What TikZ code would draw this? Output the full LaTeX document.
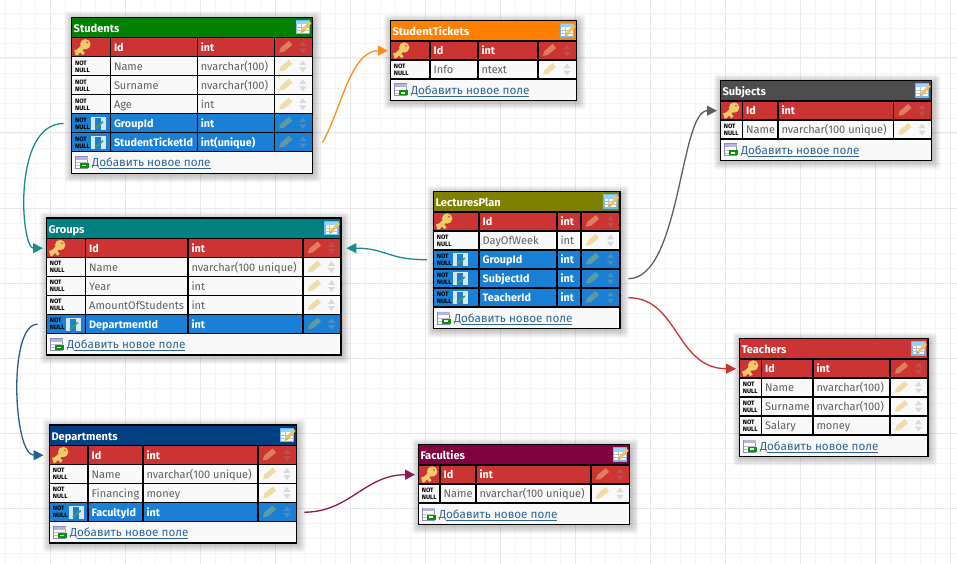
\documentclass[tikz,border=0pt]{standalone}
\usepackage{fontspec}
\setmainfont{Fira Sans}
\usetikzlibrary{arrows.meta}
\definecolor{rowP}{HTML}{CC3333}
\definecolor{rowN}{HTML}{F9F9F9}
\definecolor{rowF}{HTML}{1A80D6}
\definecolor{txtP}{HTML}{FFFFFF}
\definecolor{txtN}{HTML}{5F5F5F}
\definecolor{txtF}{HTML}{FFFFFF}
\definecolor{penP}{HTML}{DE8060}
\definecolor{penN}{HTML}{F0DCA8}
\definecolor{penF}{HTML}{5F9A9E}
\definecolor{arwP}{HTML}{BA5050}
\definecolor{arwN}{HTML}{DADADA}
\definecolor{arwF}{HTML}{4C8CC0}
\definecolor{linkc}{HTML}{2F6496}
\definecolor{gold}{HTML}{EFCB6A}
\definecolor{fkbar}{HTML}{D8E8F2}
\definecolor{fkchk}{HTML}{4E9A50}
\definecolor{cGreen}{HTML}{008000}
\definecolor{cOrange}{HTML}{FF8000}
\definecolor{cGray}{HTML}{4D4D4D}
\definecolor{cTeal}{HTML}{008080}
\definecolor{cOlive}{HTML}{808000}
\definecolor{cRed}{HTML}{CC3333}
\definecolor{cNavy}{HTML}{004080}
\definecolor{cMaroon}{HTML}{800040}
\newcount\rowcnt
\tikzset{
  minorgrid/.style={draw=black!4,line width=.8pt},
  majorgrid/.style={draw=black!9,line width=1pt},
  tablebox/.style={rectangle,fill=rowN,inner sep=0pt,anchor=north west},
  rowbox/.style={rectangle,inner sep=0pt,anchor=north west,minimum height=19pt},
  rule/.style={draw=black,line width=1.2pt},
  celltext/.style={inner sep=0pt,anchor=base west,font=\fontsize{11}{14}\selectfont},
  titletext/.style={inner sep=0pt,anchor=base west,text=white,font=\fontsize{11.1}{14}\selectfont\bfseries},
  nntext/.style={inner sep=0pt,anchor=base west,text=black,font=\fontsize{6.3}{7}\selectfont\bfseries},
  linktext/.style={inner sep=0pt,anchor=base west,text=linkc,font=\fontsize{11.7}{14}\selectfont},
  conn/.style={draw=#1,line width=1.3pt,-{Triangle[length=10pt,width=10pt]},fill=none},
}
\newcommand{\boldsz}{\fontsize{10.8}{14}\selectfont\bfseries}
\newcommand{\keyicon}[2]{\begin{scope}[shift={(#1,#2)}]
  \draw[gold,line width=4.4pt] (3,-2.5) -- (-5,5);
  \draw[gold,line width=3pt] (-2,2.5) -- (1.5,6.8);
  \draw[gold,line width=3pt] (-6.5,2.5) -- (-5,7.8);
  \fill[gold] (3.2,-3) circle (5.2);
  \fill[rowP!70!gold] (5,-4.8) circle (1.1);
\end{scope}}
\newcommand{\fkicon}[2]{\begin{scope}[shift={(#1,#2)}]
  \fill[fkbar] (-7.5,-6.5) rectangle (-3,6.5);
  \fill[fkbar] (3,-6.5) rectangle (7.5,6.5);
  \fill[fkbar] (-3,-6.5) rectangle (3,-5.3);
  \draw[fkchk,line width=1.6pt] (-3,5) -- (4.8,-1.5);
\end{scope}}
\newcommand{\pencilicon}[3]{\begin{scope}[shift={(#1,#2)},rotate=40]
  \fill[#3] (-4,-2.6) -- (7,-2.6) -- (7,2.6) -- (-4,2.6) -- cycle;
  \fill[#3] (-4,-2.6) -- (-4,2.6) -- (-8,0) -- cycle;
\end{scope}}
\newcommand{\arrowsicon}[3]{\begin{scope}[shift={(#1,#2)}]
  \fill[#3] (-3.5,-1.2) -- (3.5,-1.2) -- (0,-6) -- cycle;
  \fill[#3] (-3.5,1.2) -- (3.5,1.2) -- (0,6) -- cycle;
\end{scope}}
\newcommand{\editicon}[2]{\begin{scope}[shift={(#1,#2)}]
  \fill[white] (-7,-6.5) rectangle (6,6.5);
  \draw[blue!45!cyan!60!white,line width=1.1pt] (-7,-6.5) rectangle (6,6.5);
  \fill[blue!45!cyan!40!white] (-7,-6.5) rectangle (6,-3);
  \draw[black!25,line width=.6pt] (-7,0) -- (6,0) (-7,3.2) -- (6,3.2) (-2.5,-3) -- (-2.5,6.5);
  \draw[gold!90!orange,line width=3pt] (7,-5) -- (-0.5,3.5);
  \fill[gold!60!brown] (-2.5,6) -- (-1.6,2.2) -- (0.7,4.4) -- cycle;
\end{scope}}
\newcommand{\addicon}[2]{\begin{scope}[shift={(#1,#2)}]
  \fill[white] (-6.5,-6) rectangle (5.5,6);
  \draw[blue!30!gray!70!white,line width=1pt] (-6.5,-6) rectangle (5.5,6);
  \fill[blue!30!gray!45!white] (-6.5,-6) rectangle (5.5,-3);
  \draw[black!25,line width=.6pt] (-6.5,0) -- (5.5,0) (-6.5,3) -- (5.5,3);
  \fill[green!60!black] (-2,0.5) rectangle (7,5.5);
  \fill[white] (-.5,2.3) rectangle (4,3.7);
\end{scope}}
% #1 title #2 colour #3 x0 #4 y0 #5 c1 #6 c2 #7 c3 #8 x1 #9 rows
\newcommand{\dbtable}[9]{%
  \global\rowcnt=0
  \foreach \aa in {#9}{\global\advance\rowcnt by 1}
  \pgfmathsetmacro\tw{#8-(#3)}
  \pgfmathsetmacro\ya{#4+20.5}
  \pgfmathsetmacro\yb{\ya+19*\the\rowcnt}
  \pgfmathsetmacro\yc{\yb+21.5}
  \pgfmathsetmacro\th{\yc-(#4)}
  \foreach \s in {1,...,8}{\fill[black,opacity=.032,rounded corners=3pt] (#3-\s+1,#4-\s+2) rectangle (#8+\s+1,\yc+\s+1);}
  \node[tablebox,minimum width=\tw pt,minimum height=\th pt] (#1) at (#3,#4) {};
  \fill[#2] (#3,#4) rectangle (#8,\ya);
  \node[titletext] (#1-title) at (#3+1.8,#4+15) {#1};
  \editicon{#8-9}{#4+10}
  \foreach \kk/\fn/\ft [count=\ii] in {#9}{%
    \pgfmathsetmacro\ry{\ya+19*(\ii-1)}
    \pgfmathsetmacro\rc{\ry+9.5}
    \node[rowbox,fill=row\kk,minimum width=\tw pt] (#1-\fn) at (#3,\ry) {};
    \if\kk P\keyicon{#3+10.5}{\rc}\else
      \node[nntext] (#1-\fn-nn1) at (#3+3.2,\rc-1.2) {NOT};
      \node[nntext] (#1-\fn-nn2) at (#3+3.2,\rc+5.8) {NULL};
    \fi
    \if\kk F\fkicon{#3+26.5}{\rc}\fi
    \ifx\kk\kP\def\tfm{\boldsz}\else\ifx\kk\kF\def\tfm{\boldsz}\else\def\tfm{}\fi\fi
    \node[celltext,text=txt\kk] (#1-\fn-name) at (#5+3.5,\rc+4.4) {\tfm\fn};
    \node[celltext,text=txt\kk] (#1-\fn-type) at (#6+3.3,\rc+4.4) {\tfm\ft};
    \pencilicon{#7+11}{\rc}{pen\kk}
    \arrowsicon{#8-9.5}{\rc}{arw\kk}
  }
  \draw[rule] (#3,\ya) -- (#8,\ya);
  \foreach \ii in {1,...,\the\rowcnt}{\draw[rule] (#3,\ya+19*\ii) -- (#8,\ya+19*\ii);}
  \draw[rule] (#5,\ya) -- (#5,\yb) (#6,\ya) -- (#6,\yb) (#7,\ya) -- (#7,\yb);
  \draw[rule] (#3,#4) rectangle (#8,\yc);
  \addicon{#3+10.5}{\yc-10.5}
  \node[linktext] (#1-add) at (#3+20.3,\yc-6.3) {Д\underline{обавить новое поле}};
}
\def\kP{P}\def\kF{F}
\begin{document}
\begin{tikzpicture}[x=1pt,y=-1pt]
\useasboundingbox (0,0) rectangle (957,564);
\fill[white] (0,0) rectangle (957,564);
\foreach \i in {0,...,63}{\draw[minorgrid] (5.7+15*\i,0) -- (5.7+15*\i,564);}
\foreach \i in {0,...,37}{\draw[minorgrid] (0,13+15*\i) -- (957,13+15*\i);}
\foreach \i in {0,...,12}{\draw[majorgrid] (50.7+75*\i,0) -- (50.7+75*\i,564);}
\foreach \i in {0,...,7}{\draw[majorgrid] (0,58+75*\i) -- (957,58+75*\i);}

\dbtable{Students}{cGreen}{71.7}{17.3}{110.3}{197.3}{274.3}{312.3}{P/Id/int,N/Name/nvarchar(100),N/Surname/nvarchar(100),N/Age/int,F/GroupId/int,F/StudentTicketId/int(unique)}
\dbtable{StudentTickets}{cOrange}{390.5}{20.5}{430}{478}{538}{576.5}{P/Id/int,N/Info/ntext}
\dbtable{Subjects}{cGray}{720.5}{80.5}{742.5}{778}{893.5}{931.5}{P/Id/int,N/Name/nvarchar(100 unique)}
\dbtable{Groups}{cTeal}{46.5}{218}{85.5}{188}{303}{341}{P/Id/int,N/Name/nvarchar(100 unique),N/Year/int,N/AmountOfStudents/int,F/DepartmentId/int}
\dbtable{LecturesPlan}{cOlive}{433.5}{191.5}{479}{557}{581}{620}{P/Id/int,N/DayOfWeek/int,F/GroupId/int,F/SubjectId/int,F/TeacherId/int}
\dbtable{Teachers}{cRed}{739.5}{338.5}{761.5}{813}{890}{928}{P/Id/int,N/Name/nvarchar(100),N/Surname/nvarchar(100),N/Salary/money}
\dbtable{Departments}{cNavy}{49.5}{425}{88}{143}{258}{296.5}{P/Id/int,N/Name/nvarchar(100 unique),N/Financing/money,F/FacultyId/int}
\dbtable{Faculties}{cMaroon}{418.5}{444.5}{440}{476}{591}{629.5}{P/Id/int,N/Name/nvarchar(100 unique)}

\draw[conn=cTeal!90!white] ([xshift=-8pt]Students-GroupId.west) .. controls +(-52,0) and +(-22,0) .. ([xshift=-3.5pt]Groups-Id.west);
\draw[conn=cNavy!85!white] ([xshift=-9pt]Groups-DepartmentId.west) .. controls +(-30,0) and +(-30,0) .. ([xshift=-6pt]Departments-Id.west);
\draw[conn=cTeal!90!white] ([xshift=-6.5pt]LecturesPlan-GroupId.west) .. controls +(-40,0) and +(40,0) .. ([xshift=5pt]Groups-Id.east);
\draw[conn=cOrange!90!white] ([xshift=9.7pt]Students-StudentTicketId.east) .. controls +(18,-30) and +(-38,0) .. ([xshift=-2.5pt]StudentTickets-Id.west);
\draw[conn=cGray!90!white] ([xshift=8pt]LecturesPlan-SubjectId.east) .. controls +(52,0) and +(-37,0) .. ([xshift=-3.5pt]Subjects-Id.west);
\draw[conn=cRed] ([xshift=8pt]LecturesPlan-TeacherId.east) .. controls +(50,0) and +(-60,0) .. ([xshift=-3.5pt]Teachers-Id.west);
\draw[conn=cMaroon!90!white] ([xshift=7.5pt]Departments-FacultyId.east) .. controls +(45,0) and +(-50,0) .. ([xshift=-3.5pt]Faculties-Id.west);
\end{tikzpicture}
\end{document}
